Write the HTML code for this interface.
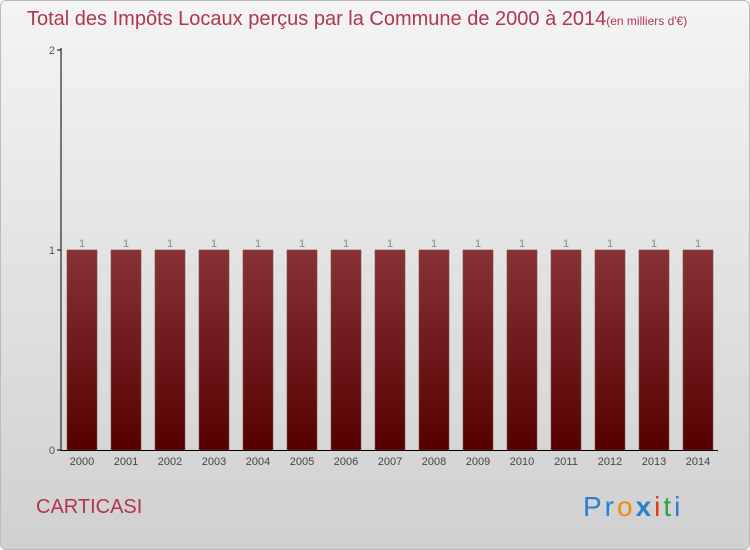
<!DOCTYPE html>
<html><head><meta charset="utf-8"><style>
body{margin:0;width:750px;height:550px;overflow:hidden;font-family:"Liberation Sans",sans-serif}
#bg{position:absolute;left:0;top:0;width:748px;height:548px;border:1px solid #bbb;border-radius:6px;background:linear-gradient(#f4f4f4,#d0d0d0)}
</style></head><body>
<div id="bg"></div>
<svg width="750" height="550" style="position:absolute;left:0;top:0">
<defs><linearGradient id="g" x1="0" y1="0" x2="0" y2="1"><stop offset="0" stop-color="#873236"/><stop offset="1" stop-color="#550000"/></linearGradient></defs>
<text x="27" y="25" font-size="20" fill="#b0364e">Total des Impôts Locaux perçus par la Commune de 2000 à 2014<tspan font-size="12">(en milliers d'€)</tspan></text>
<g id="bars"></g>
<line x1="61" y1="48" x2="61" y2="451" stroke="#000"/>
<line x1="61" y1="450.5" x2="718" y2="450.5" stroke="#000"/>
<g id="ticks" font-size="11" fill="#555"></g>
<text x="36" y="513" font-size="20" fill="#b0364e">CARTICASI</text>
<g font-size="28" letter-spacing="3"><text x="583" y="516"><tspan fill="#2a7fd0">Pr</tspan><tspan fill="#f08a10">o</tspan><tspan fill="#2a7fd0" font-weight="bold">x</tspan><tspan fill="#e04010">i</tspan><tspan fill="#30a040">t</tspan><tspan fill="#2a7fd0">i</tspan></text></g>
</svg>
<script>
const years=["2000","2001","2002","2003","2004","2005","2006","2007","2008","2009","2010","2011","2012","2013","2014"];
const values=[1,1,1,1,1,1,1,1,1,1,1,1,1,1,1];
const yTicks=[0,1,2];
const ns="http://www.w3.org/2000/svg";
const y=v=>450-v*200, x=i=>82+i*44;
const bars=document.getElementById('bars'),ticks=document.getElementById('ticks');
function mk(t,a,p){const e=document.createElementNS(ns,t);for(const k in a)e.setAttribute(k,a[k]);p.appendChild(e);return e;}
values.forEach((v,i)=>{
 const r=mk('rect',{x:x(i)-15,y:y(v),width:30,height:450-y(v),fill:'url(#g)',stroke:'#8a4a4c','stroke-width':0.6},bars);
 
 
 const l=mk('text',{x:x(i),y:y(v)-3,'text-anchor':'middle','font-size':11,fill:'#888'},bars);l.textContent=v;
 
 
 const t=mk('text',{x:x(i),y:465,'text-anchor':'middle','font-size':11,fill:'#444'},ticks);t.textContent=years[i];
 
 
});
yTicks.forEach(v=>{
 mk('line',{x1:57,x2:61,y1:y(v),y2:y(v),stroke:'#000'},ticks);
 const t=mk('text',{x:55,y:y(v)+4,'text-anchor':'end'},ticks);t.textContent=v;
 
 
});
</script>
</body></html>
